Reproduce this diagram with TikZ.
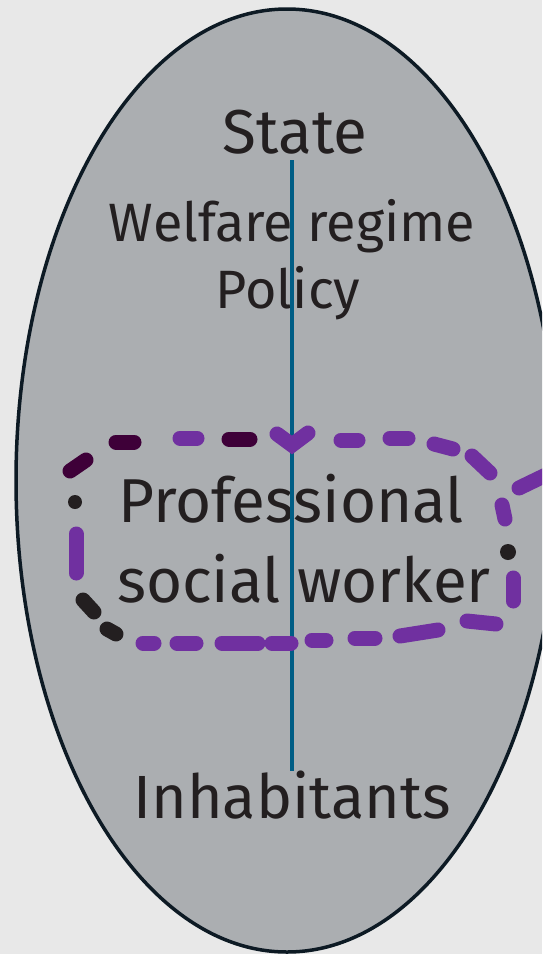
\documentclass[tikz,border=0pt]{standalone}
\usepackage{fontspec}
\setmainfont{Fira Sans}

\definecolor{backgr}{HTML}{E8E8E8}
\definecolor{shellfill}{HTML}{ABAEB1}
\definecolor{shelldraw}{HTML}{0D1A24}
\definecolor{axisblue}{HTML}{005D85}
\definecolor{ink}{HTML}{231F20}
\definecolor{lilac}{HTML}{7030A0}
\definecolor{plum}{HTML}{3E0038}

\tikzset{
  label/.style={inner sep=0pt, text=ink},
  huge/.style={label, font=\fontsize{62}{74}\selectfont},
  mid/.style={label, font=\fontsize{62}{74}\selectfont},
  small/.style={label, font=\fontsize{54}{64}\selectfont},
  dab/.style={line width=15pt, line cap=round},
}

\begin{document}
\begin{tikzpicture}[x=1pt, y=-1pt]
	\fill[backgr] (0,0) rectangle (542,954);
	\useasboundingbox (0,0) rectangle (542,954);
	\clip (0,0) rectangle (542,954);
	
	% the shell
	\draw[fill=shellfill, draw=shelldraw, line width=3.5pt] (287,480.5) ellipse [x radius=271, y radius=471.5];
	
	\node[huge, anchor=base] (state) at (295,153){State};
	\node[small, anchor=base] (regime) at (292,241){Welfare regime};
	\node[small, anchor=base] (policy) at (288,308){Policy};
	
	\node[mid, anchor=base west] (prof) at (118,522){Professional};
	\node[mid, anchor=base west] (social) at (117,602){social worker};
	
	\node[huge, anchor=base, font=\fontsize{61}{73}\selectfont] (inhab) at (292,818){Inhabitants};
	
	% axis from top to bottom
	\coordinate (axtop) at (292,160);
	\coordinate (axbot) at (292,771);
	\draw[axisblue, line width=3.5pt] (axtop) -- (axbot);
	
	% dashed loop round the worker, top side
	\draw[dab, plum] (70,471) -- (86,460);
	\draw[dab, plum] (116,442) -- (134,442);
	\draw[dab, lilac] (180,438) -- (197,438);
	\draw[dab, plum] (229,439) -- (250,439);
	\draw[dab, lilac] (277,434) -- (292,445) -- (308,433);
	\draw[dab, lilac] (341,440) -- (358,440);
	\draw[dab, lilac] (390,438) -- (408,438);
	\draw[dab, lilac] (434,444) -- (453,449);
	\draw[dab, lilac] (472,456) -- (490,473);
	% right side
	\draw[dab, lilac] (502,505) -- (505,519);
	\fill[ink] (508,552) circle (8);
	\draw[dab, lilac] (513,578) -- (513,601);
	\draw[dab, lilac] (519,488) -- (548,474);
	% bottom side
	\draw[dab, lilac] (467,621) -- (496,624);
	\draw[dab, lilac] (400,636) -- (438,630);
	\draw[dab, lilac] (355,638) -- (375,638);
	\draw[dab, lilac] (312,640) -- (326,640);
	\draw[dab, lilac] (272,643) -- (291,643);
	\draw[dab, lilac] (222,643) -- (258,643);
	\draw[dab, lilac] (177,643) -- (196,643);
	\draw[dab, lilac] (143,643) -- (154,643);
	% left side
	\draw[dab, ink] (107,629) -- (116,634);
	\draw[dab, ink] (83,600) -- (94,612);
	\draw[dab, lilac] (76,534) -- (76,573);
	\fill[ink] (75,502) circle (7);
\end{tikzpicture}
\end{document}
